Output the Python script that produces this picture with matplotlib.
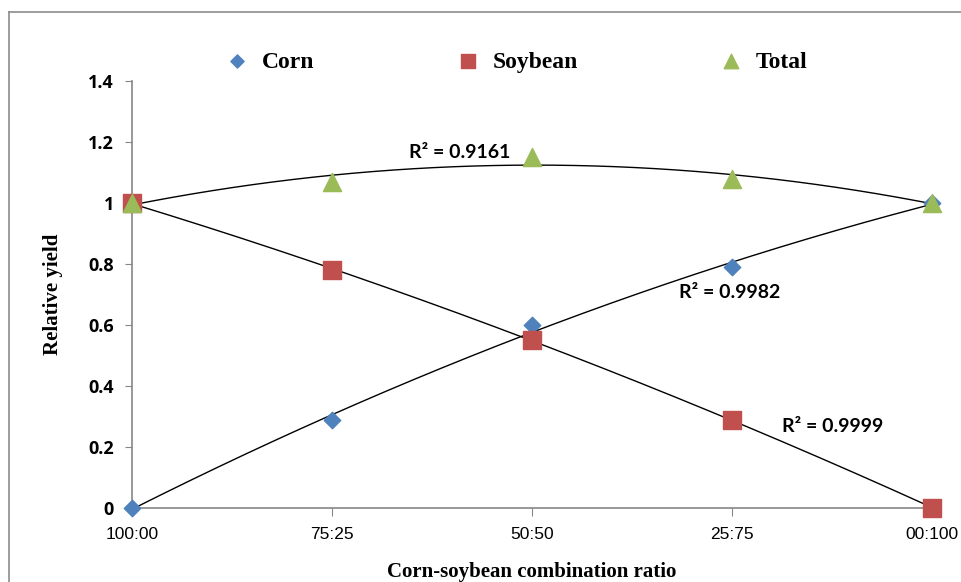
import matplotlib
matplotlib.use("Agg")
import matplotlib.pyplot as plt
import numpy as np
from matplotlib.lines import Line2D

ratios = ["100:00", "75:25", "50:50", "25:75", "00:100"]
corn = [0.0, 0.29, 0.60, 0.79, 1.0]
soybean = [1.0, 0.78, 0.55, 0.29, 0.0]
total = [1.0, 1.07, 1.15, 1.08, 1.0]
r2_labels = ["R² = 0.9161", "R² = 0.9982", "R² = 0.9999"]

x = np.arange(len(ratios))
xs = np.linspace(0, len(ratios) - 1, 200)

fig = plt.figure(figsize=(9.61, 5.82), dpi=100)
ax = fig.add_axes([0.1374, 0.1271, 0.8324, 0.7337])

# trendlines (2nd order polynomial)
for serie in (total, corn, soybean):
    coef = np.polyfit(x, serie, 2)
    ax.plot(xs, np.polyval(coef, xs), color="black", linewidth=1.0, zorder=2)

ax.scatter(x, corn, marker="D", s=70, color="#4F81BD", zorder=3, label="Corn", clip_on=False)
ax.scatter(x, soybean, marker="s", s=160, color="#C0504D", zorder=3, label="Soybean", clip_on=False)
ax.scatter(x, total, marker="^", s=170, color="#9BBB59", zorder=4, label="Total", clip_on=False)

font_r2 = dict(fontsize=14, fontweight="bold", family="Lato", ha="center", va="center")
ax.text(1.64, 1.167, r2_labels[0], **font_r2)
ax.text(2.99, 0.708, r2_labels[1], **font_r2)
ax.text(3.505, 0.266, r2_labels[2], **font_r2)

ax.set_xlim(0, 4)
ax.set_ylim(0, 1.4)
ax.set_xticks(x)
ax.set_xticklabels(ratios, fontsize=12.5, family="Liberation Sans")
ax.set_yticks(np.arange(0, 1.41, 0.2))
ax.set_yticklabels(["0", "0.2", "0.4", "0.6", "0.8", "1", "1.2", "1.4"],
                   fontsize=13, fontweight="bold", family="Open Sans")
ax.tick_params(axis="x", direction="out", length=6, color="#868686", pad=8)
ax.tick_params(axis="y", direction="out", length=5, color="#868686", pad=8)
for side in ("top", "right"):
    ax.spines[side].set_visible(False)
for side in ("left", "bottom"):
    ax.spines[side].set_color("#868686")
    ax.spines[side].set_linewidth(1.2)

ax.set_xlabel("Corn-soybean combination ratio", fontsize=15, fontweight="bold",
              family="Liberation Serif", labelpad=14)
ax.set_ylabel("Relative yield", fontsize=15, fontweight="bold",
              family="Liberation Serif", labelpad=18)

leg = ax.legend(loc="lower center", bbox_to_anchor=(0.473, 0.97), ncol=3, frameon=False,
                prop={"family": "Liberation Serif", "weight": "bold", "size": 17},
                handletextpad=0.05, columnspacing=5.5, markerscale=0.8)

# outer frame (partially visible)
fig.add_artist(Line2D([9 / 961, 1], [1 - 12 / 582, 1 - 12 / 582], color="#8c8c8c", linewidth=1.2))
fig.add_artist(Line2D([9 / 961, 9 / 961], [0, 1 - 12 / 582], color="#8c8c8c", linewidth=1.2))

fig.savefig("out.png", dpi=100)
